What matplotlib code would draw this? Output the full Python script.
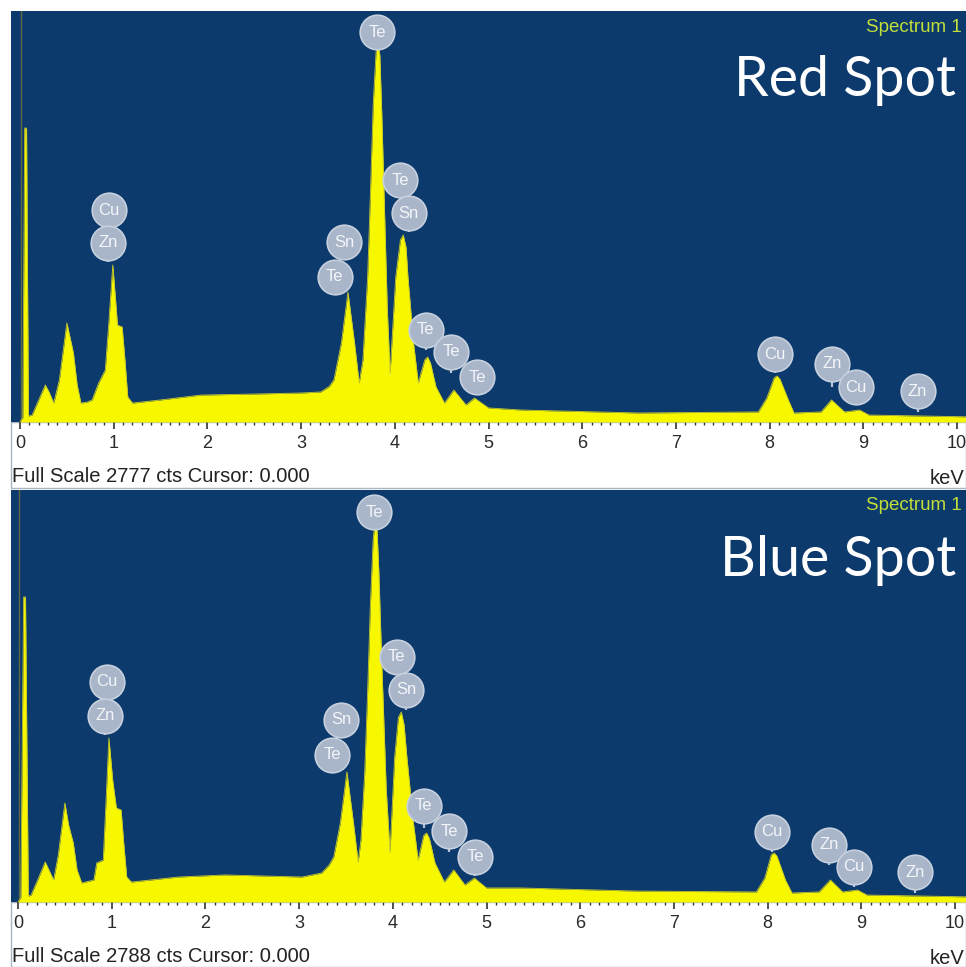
import matplotlib
matplotlib.use("Agg")
import matplotlib.pyplot as plt
from matplotlib.patches import Rectangle

# ---------------- data ----------------
# Red spot spectrum outline: energy (keV) and counts
red_kev = [0.00, 0.03, 0.05, 0.07, 0.09, 0.13, 0.20, 0.27, 0.31, 0.36, 0.42, 0.50, 0.54, 0.57,
           0.61, 0.65, 0.72, 0.77, 0.84, 0.91, 0.95, 0.99, 1.02, 1.04, 1.09, 1.12, 1.15, 1.20,
           1.50, 1.93, 2.50, 3.00, 3.21, 3.30, 3.35, 3.43, 3.50, 3.57, 3.62, 3.66, 3.71, 3.74,
           3.77, 3.80, 3.82, 3.84, 3.86, 3.88, 3.92, 3.95, 4.01, 4.06, 4.09, 4.12, 4.14, 4.20,
           4.25, 4.32, 4.35, 4.38, 4.44, 4.53, 4.63, 4.76, 4.85, 5.00, 5.35, 6.60, 7.88, 7.97,
           8.05, 8.08, 8.11, 8.20, 8.26, 8.55, 8.66, 8.80, 8.96, 9.06, 10.2]
red_cts = [0, 30, 1986, 1986, 40, 47, 149, 250, 203, 128, 284, 669, 554, 466,
           250, 128, 135, 149, 264, 351, 689, 1061, 824, 655, 642, 419, 169, 128,
           149, 182, 189, 196, 203, 240, 284, 534, 878, 534, 264, 419, 980, 1550,
           2150, 2500, 2561, 2480, 2100, 1655, 757, 331, 980, 1230, 1264, 1180, 980, 534,
           264, 420, 439, 400, 236, 128, 216, 115, 162, 95, 81, 61, 68, 162,
           300, 311, 290, 149, 61, 68, 149, 68, 81, 47, 34]

# Blue spot spectrum outline
blue_kev = [0.00, 0.03, 0.06, 0.08, 0.11, 0.14, 0.21, 0.29, 0.33, 0.38, 0.43, 0.50, 0.54, 0.59,
            0.63, 0.68, 0.81, 0.84, 0.91, 0.94, 0.97, 1.01, 1.05, 1.10, 1.13, 1.16, 1.21,
            1.71, 2.21, 3.03, 3.24, 3.32, 3.37, 3.44, 3.51, 3.58, 3.63, 3.66, 3.70, 3.73,
            3.76, 3.79, 3.81, 3.83, 3.85, 3.88, 3.93, 3.97, 4.02, 4.06, 4.09, 4.12, 4.15,
            4.22, 4.27, 4.33, 4.36, 4.39, 4.45, 4.55, 4.65, 4.77, 4.87, 5.00, 5.36, 6.60,
            7.88, 7.97, 8.04, 8.07, 8.10, 8.19, 8.26, 8.55, 8.67, 8.80, 8.96, 9.06, 10.2]
blue_cts = [0, 30, 2064, 2064, 40, 47, 149, 271, 217, 149, 318, 670, 521, 399,
            217, 129, 149, 264, 284, 690, 1110, 826, 636, 623, 386, 169, 135,
            169, 183, 169, 196, 250, 305, 535, 880, 535, 271, 420, 873, 1400,
            2000, 2450, 2571, 2540, 2250, 1658, 758, 338, 981, 1250, 1286, 1200, 981,
            535, 284, 450, 467, 430, 264, 135, 217, 115, 162, 95, 95, 74,
            68, 162, 320, 332, 310, 149, 61, 68, 149, 68, 81, 47, 34]

# Peak labels: element, keV, counts of label centre, counts where stem ends (None = no stem)
red_lab_el = ["Cu", "Zn", "Te", "Te", "Sn", "Sn", "Te", "Te", "Te", "Te", "Cu", "Zn", "Cu", "Zn"]
red_lab_x = [0.95, 0.94, 3.81, 4.06, 4.15, 3.46, 3.36, 4.33, 4.60, 4.88, 8.06, 8.67, 8.92, 9.58]
red_lab_y = [1432, 1210, 2635, 1635, 1412, 1216, 980, 622, 473, 304, 459, 392, 236, 209]
red_stem = [None, 1081, None, None, 1284, None, 892, 486, 331, 196, 331, 236, 115, 68]

blue_lab_el = ["Cu", "Zn", "Te", "Te", "Sn", "Sn", "Te", "Te", "Te", "Te", "Cu", "Zn", "Cu", "Zn"]
blue_lab_x = [0.95, 0.93, 3.80, 4.04, 4.14, 3.45, 3.35, 4.33, 4.60, 4.88, 8.05, 8.66, 8.92, 9.57]
blue_lab_y = [1489, 1259, 2639, 1658, 1435, 1232, 995, 650, 480, 305, 474, 386, 237, 203]
blue_stem = [None, 1130, None, None, 1299, None, 880, 500, 338, 176, 338, 250, 101, 61]

# stacked pairs (index of upper, index of lower) joined by a short link
pairs = [(0, 1), (3, 4), (5, 6)]

full_scale = [2777, 2788]
titles = ["Red Spot", "Blue Spot"]
tick_labels = [str(i) for i in range(11)]

# ---------------- figure ----------------
W, H = 966, 967
fig = plt.figure(figsize=(W / 100, H / 100), dpi=100)
fig.patch.set_facecolor("white")

NAVY = "#0c3a6c"
YELLOW = "#f7f700"
CIRCLE = "#a9b5c8"
STEM = "#b9c5d6"

panels = [
    dict(top=11, base=422, strip_bot=488, x0=20.0, kev=red_kev, cts=red_cts,
         el=red_lab_el, lx=red_lab_x, ly=red_lab_y, stem=red_stem),
    dict(top=490, base=902, strip_bot=967, x0=18.0, kev=blue_kev, cts=blue_cts,
         el=blue_lab_el, lx=blue_lab_x, ly=blue_lab_y, stem=blue_stem),
]
px_per_kev = 93.7
left_px, right_px = 11, 966

for i, p in enumerate(panels):
    # white strip with border (behind the axes)
    fig.patches.append(Rectangle((left_px / W, 1 - p["strip_bot"] / H), (right_px - left_px) / W,
                                 (p["strip_bot"] - p["base"]) / H, transform=fig.transFigure,
                                 facecolor="white", edgecolor="#a8b6c6", lw=1.0, zorder=-5))
    ax = fig.add_axes([left_px / W, 1 - p["base"] / H, (right_px - left_px) / W,
                       (p["base"] - p["top"]) / H])
    ax.set_facecolor(NAVY)
    xl = (left_px - p["x0"]) / px_per_kev
    xr = (right_px - p["x0"]) / px_per_kev
    ax.set_xlim(xl, xr)
    ax.set_ylim(0, full_scale[i])
    for s in ax.spines.values():
        s.set_visible(False)
    ax.set_yticks([])
    ax.set_xticks(range(11))
    ax.set_xticklabels(tick_labels, fontfamily="Liberation Sans", fontsize=13, color="#2a2a2a")
    ax.set_xticks([k / 10 for k in range(101) if k % 10 != 0], minor=True)
    ax.tick_params(axis="x", which="major", direction="out", length=5, width=1.2,
                   color="#333333", pad=4)
    ax.tick_params(axis="x", which="minor", direction="out", length=2.5, width=1.0,
                   color="#333333")

    # cursor line
    ax.axvline(0.01, color="#5f6a45", lw=1.0, zorder=1)
    # spectrum
    ax.fill_between(p["kev"], p["cts"], 0, color=YELLOW, lw=0, zorder=2)
    ax.plot(p["kev"], p["cts"], color="#c9c92a", lw=0.6, zorder=2)

    # peak labels
    r = 17 * full_scale[i] / (p["base"] - p["top"])  # circle radius in counts
    for a, b in pairs:
        ax.plot([p["lx"][a], p["lx"][b]], [p["ly"][a], p["ly"][b]], color=STEM, lw=1.5, zorder=3)
    for x, y, st in zip(p["lx"], p["ly"], p["stem"]):
        if st is not None:
            ax.plot([x, x], [y - r, st], color=STEM, lw=1.6, zorder=3,
                    solid_capstyle="butt")
    ax.scatter(p["lx"], p["ly"], s=620, color=CIRCLE, edgecolor="#c6d0de", linewidth=1.2,
               zorder=4)
    for el, x, y in zip(p["el"], p["lx"], p["ly"]):
        ax.text(x, y, el, ha="center", va="center", fontsize=12, color="#f3f5f9",
                fontfamily="Liberation Sans", zorder=5)

    # texts
    ax.text(0.996, 1 - 16 / (p["base"] - p["top"]), "Spectrum 1", transform=ax.transAxes,
            ha="right", va="center", fontsize=13.5, color="#c2de3a", fontfamily="Liberation Sans")
    ax.text(0.99, 1 - 70 / (p["base"] - p["top"]), titles[i], transform=ax.transAxes,
            ha="right", va="center", fontsize=40, color="white", fontfamily="Lato")
    fig.text(12 / W, 1 - (p["base"] + 54) / H, f"Full Scale {full_scale[i]} cts Cursor: 0.000",
             ha="left", va="center", fontsize=14.5, color="#222222", fontfamily="Liberation Sans")
    fig.text(964 / W, 1 - (p["base"] + 56) / H, "keV", ha="right", va="center",
             fontsize=14.5, color="#222222", fontfamily="Liberation Sans")

fig.savefig("out.png", dpi=100, facecolor="white")
